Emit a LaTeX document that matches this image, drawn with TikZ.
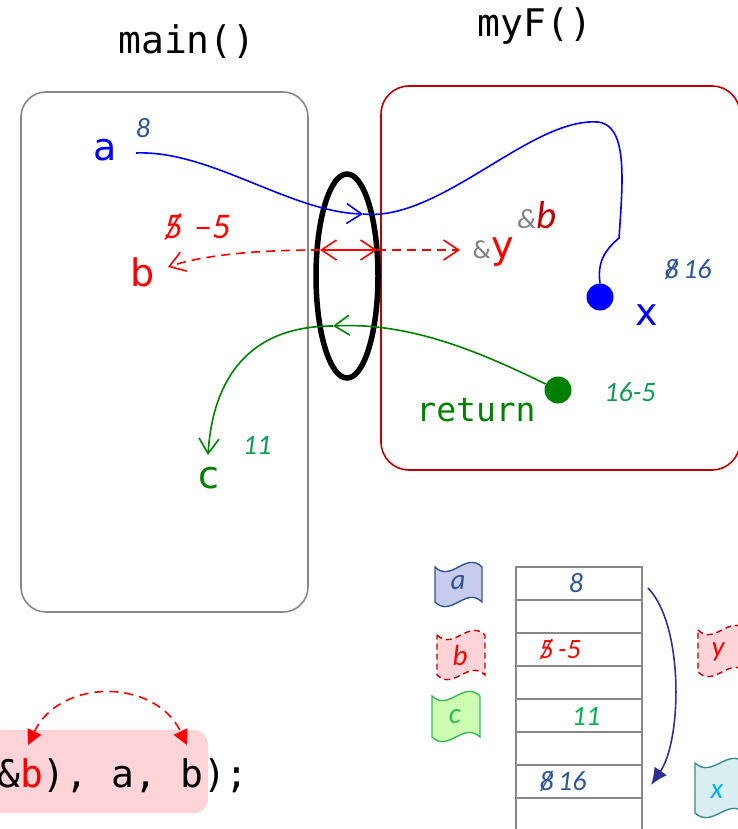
\documentclass[tikz,border=0pt]{standalone}
\usepackage{fontspec}
\setmainfont{Carlito}
\setsansfont{DejaVu Sans}
\setmonofont{DejaVu Sans Mono}
\usetikzlibrary{arrows.meta}
\definecolor{steel}{HTML}{2F5597}
\definecolor{dred}{HTML}{C00000}
\definecolor{grn}{HTML}{008000}
\definecolor{igrn}{HTML}{0E9A50}
\definecolor{tgrn}{HTML}{00B050}
\definecolor{navytwo}{HTML}{2E3192}
\definecolor{pinkf}{HTML}{FFD4D8}
\definecolor{lav}{HTML}{C8CCEC}
\definecolor{lgrn}{HTML}{CCFFB2}
\definecolor{lcyan}{HTML}{D8EEF0}
\definecolor{tealtwo}{HTML}{3A8A8F}
\definecolor{xcyan}{HTML}{00B0F0}
\definecolor{cgreen}{HTML}{33BB55}
\definecolor{bgray}{HTML}{888888}
\newcommand\stk[1]{\ooalign{#1\cr\hidewidth/\hidewidth\cr}}
\newcommand\wave[2]{(0,0) .. controls (0.35*#1,16) and (0.65*#1,-16) .. (#1,0) -- (#1,#2) .. controls (0.65*#1,#2-16) and (0.35*#1,#2+16) .. (0,#2) -- cycle}
\begin{document}
\begin{tikzpicture}[x=1pt,y=-1pt,
  mono/.style={font=\fontsize{38}{40}\selectfont\ttfamily, inner sep=0pt},
  var/.style={font=\fontsize{38}{40}\selectfont\sffamily, inner sep=0pt},
  num/.style={font=\fontsize{28}{30}\selectfont\itshape, inner sep=0pt},
  flagtxt/.style={font=\fontsize{29}{30}\selectfont\itshape, inner sep=0pt},
  barb/.style={-{Straight Barb[length=15pt,width=20pt]}},
  dbarb/.style={{Straight Barb[length=15pt,width=20pt]}-{Straight Barb[length=15pt,width=20pt]}},
  ln/.style={line width=1.6pt},
  dsh/.style={dash pattern=on 9pt off 6pt},
  fdsh/.style={dash pattern=on 6pt off 4pt}]
\useasboundingbox (0,0) rectangle (737,829);

% frames
\draw[bgray, ln, rounded corners=25pt] (21,92) rectangle (308,612);
\draw[dred, ln, rounded corners=28pt] (381,86) rectangle (740,470);
\node[mono] (mainT) at (187,42) {main()};
\node[mono] (myfT) at (535,26) {myF()};

% ellipse
\draw[line width=5.5pt] (347,276) ellipse [x radius=31pt, y radius=102pt];

% main variables
\node[var, blue] (va) at (105,150) {a};
\node[num, steel] (va8) at (143,128) {8};
\node[var, red] (vb) at (143,272) {b};
\node[font=\fontsize{36}{38}\selectfont\itshape, red, inner sep=0pt] (vb5) at (197,228) {\stk{5}\,\,–5};
\node[var, grn] (vc) at (209,478) {c};
\node[num, igrn] (vc11) at (257,445) {11};

% myF variables
\node[inner sep=0pt] (amb) at (537,215) {{\fontsize{28}{30}\selectfont\itshape\color{gray}\&}{\fontsize{39}{40}\selectfont\itshape\color{dred}b}};
\node[inner sep=0pt, anchor=base] (amy) at (493,258) {{\fontsize{24}{26}\selectfont\sffamily\color{gray}\&}{\fontsize{38}{40}\selectfont\sffamily\color{red}y}};
\node[var, blue] (vx) at (647,315) {x};
\node[num, steel] (vx16) at (688,270) {\stk{8}\,16};
\node[font=\fontsize{33}{35}\selectfont\ttfamily, grn, inner sep=0pt] (ret) at (476,410) {return};
\node[num, igrn] (ret165) at (630,392) {16-5};

% dots
\node[circle, fill=blue, minimum size=27pt, inner sep=0pt] (xd) at (600,297) {};
\node[circle, fill=grn, minimum size=27pt, inner sep=0pt] (rd) at (558,390) {};

% connection points
\coordinate (a1) at (136,153);
\coordinate (m1) at (363,214);
\coordinate (eL) at (320,250);
\coordinate (eR) at (377,250);
\coordinate (bA) at (168,267);
\coordinate (yA) at (460,250);
\coordinate (gM) at (333,326);
\coordinate (cA) at (208,455);

% blue
\draw[blue, ln, barb] (a1) .. controls (210,150) and (290,212) .. (m1);
\draw[blue, ln] (m1) .. controls (440,222) and (530,118) .. (597,122) .. controls (628,124) and (623,180) .. (619,238) .. controls (605,250) and (597,262) .. (xd.north);

% red
\draw[red, ln, dsh, barb] (eL) .. controls (250,250) and (200,256) .. (bA);
\draw[red, ln, dbarb] (eL) -- (eR);
\draw[red, ln, dsh, barb] (eR) -- (yA);

% green
\draw[grn, ln, barb] (rd) .. controls (480,352) and (410,322) .. (gM);
\draw[grn, ln, barb] (gM) .. controls (240,326) and (212,390) .. (cA);

% code line
\fill[pinkf, rounded corners=14pt] (-20,730) rectangle (208,813);
\node[mono, anchor=base west] (code) at (-3,787) {\&\textcolor{red}{b}), a, b);};
\coordinate (k1) at (28,745);
\coordinate (k2) at (187,745);
\draw[red, ln, dsh, {Triangle[length=15pt,width=15pt]}-{Triangle[length=15pt,width=15pt]}] (k1) .. controls (60,678) and (155,678) .. (k2);

% memory table
\foreach \i in {0,...,7}
  \draw[bgray, line width=2pt] (516,567+33*\i) rectangle (642,600+33*\i);
\node[num, steel] (t1) at (576,583) {8};
\node[num, red] (t3) at (560,650) {\stk{5}\,-5};
\node[num, tgrn] (t5) at (586,716) {11};
\node[num, steel] (t7) at (563,782) {\stk{8}\,16};
\coordinate (n1) at (648,588);
\coordinate (n2) at (651,785);
\draw[navytwo, ln, -{Latex[length=17pt,width=15pt]}] (n1) .. controls (684,625) and (682,740) .. (n2);

% flags
\draw[steel, fill=lav, line width=1.4pt, shift={(435,567)}] \wave{47}{35};
\node[flagtxt, steel] (fa) at (458,583) {a};
\draw[dred, fill=pinkf, line width=1.4pt, fdsh, shift={(437,635)}] \wave{48}{40};
\node[flagtxt, red] (fb) at (460,656) {b};
\draw[cgreen, fill=lgrn, line width=1.4pt, shift={(432,696)}] \wave{48}{41};
\node[flagtxt, cgreen] (fc) at (455,717) {c};
\draw[dred, fill=pinkf, line width=1.4pt, fdsh, shift={(698,630)}] \wave{48}{42};
\node[flagtxt, red] (fy) at (718,652) {y};
\draw[tealtwo, fill=lcyan, line width=1.4pt, shift={(695,763)}] \wave{50}{50};
\node[flagtxt, xcyan] (fx) at (717,792) {x};
\end{tikzpicture}
\end{document}
